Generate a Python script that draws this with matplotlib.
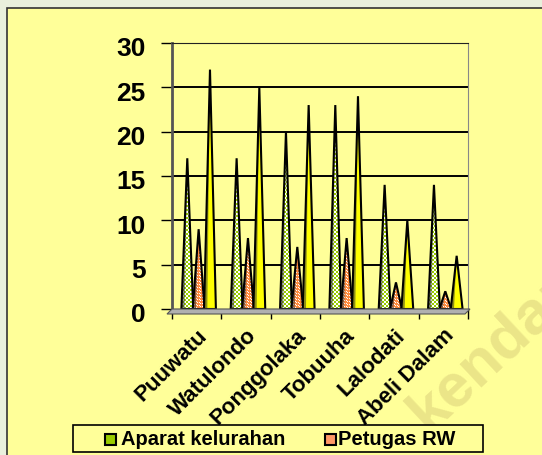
import numpy as np
import matplotlib.pyplot as plt
from matplotlib.patches import Polygon, Rectangle
from matplotlib.transforms import ScaledTranslation

plt.rcParams['font.family'] = ['Liberation Sans', 'DejaVu Sans']
plt.rcParams['font.weight'] = 'bold'

# data
categories = ['Puuwatu', 'Watulondo', 'Ponggolaka', 'Tobuuha', 'Lalodati', 'Abeli Dalam']
aparat = [17, 17, 20, 23, 14, 14]
petugas = [9, 8, 7, 8, 3, 2]
lainnya = [27, 25, 23, 24, 10, 6]
yticks = [0, 5, 10, 15, 20, 25, 30]

W, H = 542, 456
fig = plt.figure(figsize=(W / 100, H / 100), dpi=100)
fig.patch.set_facecolor('#e9f0dc')

def fx(x):
    return x / W

def fy(y):
    return 1 - y / H

# yellow panel
fig.add_artist(Rectangle((fx(7), fy(470)), 1, fy(9) - fy(470), transform=fig.transFigure,
                         facecolor='#ffff99', edgecolor='#333333', lw=1.2, zorder=0))

ax = fig.add_axes([fx(172), fy(310), fx(468) - fx(172), fy(44) - fy(310)])
ax.set_facecolor('#ffff99')
ax.set_zorder(2)

# textures (screen pixel patterns)
ny, nx = 266, 296
jj, ii = np.indices((ny, nx))
green_img = np.ones((ny, nx, 3))
green_img[(ii // 2 + jj // 2) % 2 == 0] = (0.6, 0.8, 0.0)
orange_img = np.ones((ny, nx, 3))
orange_img[:] = (1.0, 0.55, 0.25)
orange_img[((ii % 3 == 0) & ((jj + ii // 3) % 3 == 0)) | ((ii % 3 == 1) & ((jj + ii // 3) % 3 == 2))] = (1, 1, 1)
yellow_img = np.zeros((ny, nx, 3))
yellow_img[:] = (1.0, 1.0, 0.0)

series = [(aparat, 0.31, green_img), (petugas, 0.54, orange_img), (lainnya, 0.77, yellow_img)]
hw = 0.12
for i in range(len(categories)):
    for k, (vals, off, img) in enumerate(series):
        xc = i + off
        pts = [(xc - hw, 0), (xc, vals[i]), (xc + hw, 0)]
        z = 3 + i * 3 + k
        poly = Polygon(pts, closed=True, facecolor='none', edgecolor='black', lw=1.5, zorder=z + 0.5)
        ax.add_patch(poly)
        im = ax.imshow(img, extent=(0, 6, 0, 30), origin='lower', interpolation='nearest',
                       aspect='auto', zorder=z)
        im.set_clip_path(poly)
        # dark shaded side
        shade = Polygon([(xc - hw, 0), (xc, vals[i]), (xc - hw * 0.45, 0)], closed=True,
                        facecolor='#333333', edgecolor='none', alpha=0.55, zorder=z + 0.2)
        ax.add_patch(shade)

ax.set_xlim(0, 6)
ax.set_ylim(0, 30)

# grid
for v in yticks[1:-1]:
    ax.axhline(v, color='black', lw=1.4, zorder=1)

ax.set_yticks(yticks)
ax.tick_params(axis='y', labelsize=19, length=8, width=1, pad=11, direction='out')
for lab in ax.get_yticklabels():
    lab.set_fontweight('bold')
    lab.set_transform(lab.get_transform() + ScaledTranslation(0, -0.03, fig.dpi_scale_trans))

ax.set_xticks(range(7))
ax.set_xticklabels([])
ax.tick_params(axis='x', which='major', length=7, width=1, direction='out')
ax.set_xticks(np.arange(6) + 0.5, minor=True)
ax.set_xticklabels(categories, minor=True, rotation=45, ha='right', va='top',
                   rotation_mode='anchor', fontsize=16, fontweight='bold')
ax.tick_params(axis='x', which='minor', length=0, pad=11)

ax.spines['top'].set_color('#222222')
ax.spines['right'].set_color('#888888')
ax.spines['left'].set_color('#555555')
ax.spines['left'].set_linewidth(2)
ax.spines['bottom'].set_color('#888888')

# floor
fig.add_artist(Polygon([(fx(172), fy(310)), (fx(470), fy(310)), (fx(465), fy(315)), (fx(167), fy(315))],
                       closed=True, transform=fig.transFigure, facecolor='#b0b0b0',
                       edgecolor='#555555', lw=0.8, zorder=3))

# watermark
fig.text(fx(428), fy(433), 'kendari', rotation=43, fontsize=44, fontweight='bold',
         color='#ebe588', ha='left', va='baseline', rotation_mode='anchor', zorder=1)

# legend
fig.add_artist(Rectangle((fx(73), fy(453)), fx(483) - fx(73), fy(426) - fy(453), transform=fig.transFigure,
                         facecolor='#ffff99', edgecolor='black', lw=1.2, zorder=4))
fig.add_artist(Rectangle((fx(105), fy(446)), fx(11), fy(435) - fy(446), transform=fig.transFigure,
                         facecolor='#99cc00', edgecolor='black', lw=1.5, zorder=5))
fig.add_artist(Rectangle((fx(325), fy(446)), fx(11), fy(435) - fy(446), transform=fig.transFigure,
                         facecolor='#ff9966', edgecolor='black', lw=1.5, zorder=5))
fig.text(fx(121), fy(440), 'Aparat kelurahan', fontsize=14.5, fontweight='bold', va='center', zorder=6)
fig.text(fx(338), fy(440), 'Petugas RW', fontsize=14.5, fontweight='bold', va='center', zorder=6)

fig.savefig('out.png', dpi=100, facecolor=fig.get_facecolor())
